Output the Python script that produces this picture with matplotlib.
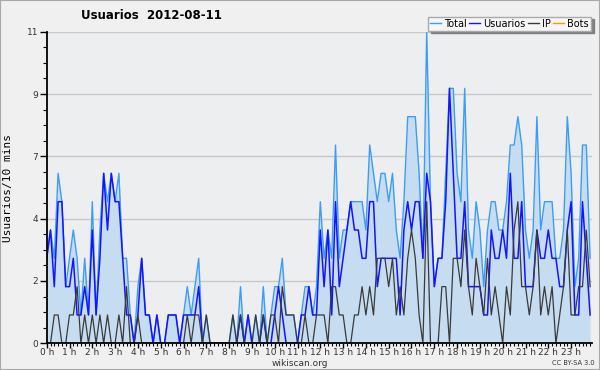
import numpy as np
import matplotlib.pyplot as plt
from matplotlib.lines import Line2D
from matplotlib.patches import Rectangle

# 10-minute samples, 2012-08-11 (144 points)
total = [3, 4, 3, 6, 5, 2,  3, 4, 3, 1, 3, 1,  5, 1, 4, 6, 5, 6,  5, 6, 3, 3, 1, 0,
         2, 3, 1, 1, 0, 1,  0, 0, 1, 1, 1, 0,  1, 2, 1, 2, 3, 0,  1, 0, 0, 0, 0, 0,
         0, 1, 0, 2, 0, 1,  0, 1, 0, 2, 0, 1,  2, 2, 3, 1, 1, 1,  0, 1, 2, 2, 1, 2,
         5, 3, 4, 3, 7, 3,  4, 4, 5, 5, 5, 5,  4, 7, 6, 5, 6, 6,  5, 6, 4, 3, 5, 8,
         8, 8, 6, 3, 11, 5, 2, 3, 3, 6, 9, 9,  6, 5, 9, 4, 3, 5,  4, 2, 4, 5, 5, 4,
         4, 5, 7, 7, 8, 7,  4, 3, 4, 8, 4, 5,  5, 5, 3, 3, 4, 8,  6, 2, 3, 7, 7, 3]
usuarios = [3, 4, 2, 5, 5, 2,  2, 3, 1, 1, 2, 1,  4, 1, 3, 6, 4, 6,  5, 5, 3, 1, 1, 0,
            1, 3, 1, 1, 0, 1,  0, 0, 1, 1, 1, 0,  1, 1, 1, 1, 2, 0,  0, 0, 0, 0, 0, 0,
            0, 0, 0, 1, 0, 1,  0, 0, 0, 1, 0, 0,  1, 2, 1, 0, 0, 0,  0, 1, 1, 2, 1, 1,
            4, 2, 4, 1, 5, 2,  3, 4, 5, 4, 4, 3,  3, 5, 5, 2, 3, 3,  3, 3, 3, 1, 4, 5,
            4, 5, 5, 3, 6, 5,  2, 3, 3, 5, 9, 6,  3, 3, 5, 2, 2, 2,  2, 1, 1, 4, 3, 3,
            4, 3, 6, 3, 3, 5,  2, 2, 2, 4, 3, 3,  4, 3, 3, 2, 2, 4,  5, 1, 1, 5, 3, 1]
ip = [0, 0, 1, 1, 0, 0,  1, 1, 2, 0, 1, 0,  1, 0, 1, 0, 1, 0,  0, 1, 0, 2, 0, 0,
      1, 0, 0, 0, 0, 0,  0, 0, 0, 0, 0, 0,  0, 1, 0, 1, 1, 0,  1, 0, 0, 0, 0, 0,
      0, 1, 0, 1, 0, 0,  0, 1, 0, 1, 0, 1,  1, 0, 2, 1, 1, 1,  0, 0, 1, 0, 0, 1,
      1, 1, 0, 2, 2, 1,  1, 0, 0, 1, 1, 2,  1, 2, 1, 3, 3, 3,  2, 3, 1, 2, 1, 3,
      4, 3, 1, 0, 5, 0,  0, 0, 2, 2, 0, 3,  3, 2, 4, 2, 1, 3,  2, 1, 3, 1, 2, 1,
      0, 2, 1, 4, 5, 2,  2, 1, 2, 4, 1, 2,  1, 2, 0, 1, 2, 4,  1, 1, 2, 2, 4, 2]
hours = [f"{h} h" for h in range(24)]
ytick_vals = [0, 2.2, 4.4, 6.6, 8.8, 11]
ytick_labels = ["0", "2", "4", "7", "9", "11"]

c_total = "#3d9df5"
c_fill = "#c6dcf0"
c_user = "#1414ff"
c_ip = "#3a3a3a"
c_bots = "#ff9900"

x = np.arange(len(total))

fig = plt.figure(figsize=(6, 3.7), dpi=100, facecolor="#f0f0f0")
ax = fig.add_axes([46.7/600, 1-343.3/370, (592-46.7)/600, (343.3-31.7)/370])
ax.set_facecolor("#eceef0")

ax.fill_between(x, 0, total, color=c_fill, lw=0, zorder=1)
ax.plot(x, total, color=c_total, lw=1.0, zorder=2)
ax.plot(x, usuarios, color=c_user, lw=1.1, zorder=3)
ax.plot(x, ip, color=c_ip, lw=0.9, zorder=4)

ax.set_xlim(0, 143.5)
ax.set_ylim(0, 11)
ax.set_yticks(ytick_vals)
ax.set_yticklabels(ytick_labels)
ax.set_yticks(np.arange(0, 11.01, 0.55), minor=True)
ax.set_xticks(np.arange(0, 144, 6))
ax.set_xticklabels(hours)
ax.set_xticks(np.arange(0, 144, 1), minor=True)
ax.grid(axis="y", which="major", color="#c8c8c8", lw=1.0, zorder=0)
ax.set_axisbelow(True)

for s in ["top", "right"]:
    ax.spines[s].set_visible(False)
for s in ["left", "bottom"]:
    ax.spines[s].set_linewidth(1.3)
    ax.spines[s].set_zorder(5)

ax.tick_params(axis="both", which="major", labelsize=6.5, labelcolor="#333333", width=1)
ax.tick_params(axis="x", which="major", length=3.5, pad=0)
ax.tick_params(axis="x", which="minor", length=2.5, width=0.8)
ax.tick_params(axis="y", which="major", length=5, pad=1)
ax.tick_params(axis="y", which="minor", length=3, width=0.8)

ax.set_ylabel("Usuarios/10 mins", family="DejaVu Sans Mono", fontsize=8)
ax.yaxis.set_label_coords(-0.062, 0.5)

fig.text(0.252, 0.958, "Usuarios  2012-08-11", fontsize=8.5, fontweight="bold",
         ha="center", va="center")
fig.text(0.5, 0.018, "wikiscan.org", fontsize=6.5, color="#333333", ha="center", va="center")
fig.text(0.955, 0.02, "CC BY-SA 3.0", fontsize=4.8, color="#333333", ha="center", va="center")

handles = [Line2D([], [], color=c_total, lw=1),
           Line2D([], [], color=c_user, lw=1),
           Line2D([], [], color=c_ip, lw=1),
           Line2D([], [], color=c_bots, lw=1)]
fig.legend(handles, ["Total", "Usuarios", "IP", "Bots"], loc="upper right",
           bbox_to_anchor=(0.985, 0.955), ncol=4, fontsize=7, frameon=True,
           fancybox=False, edgecolor="#aaaaaa", facecolor="#f6f6f6", framealpha=1,
           shadow={"color": "#808080", "alpha": 1, "ox": 2, "oy": -2},
           handlelength=1.1, handletextpad=0.35, columnspacing=0.25, borderpad=0.2,
           borderaxespad=0)

fig.patches.append(Rectangle((0, 0), 1, 1, transform=fig.transFigure, fill=False,
                             edgecolor="#a8a8a8", lw=1.5))

fig.savefig("out.png", dpi=100, facecolor=fig.get_facecolor())
